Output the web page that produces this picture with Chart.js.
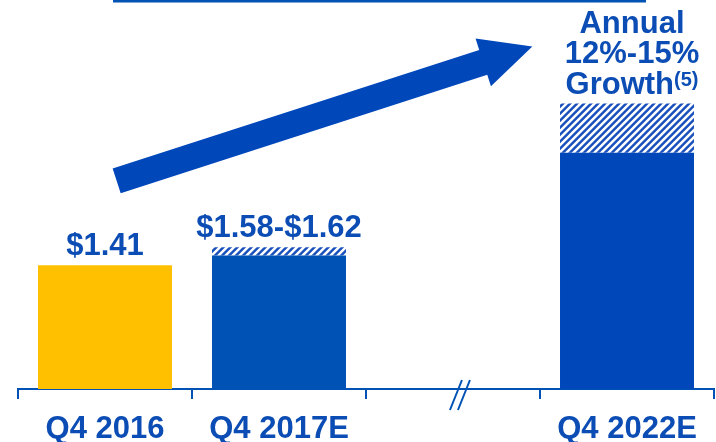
<!DOCTYPE html>
<html><head><meta charset="utf-8">
<script src="https://cdn.jsdelivr.net/npm/chart.js@4"></script>
<style>html,body{margin:0;padding:0;background:#fff}#wrap{width:716px;height:442px}</style>
</head><body><div id="wrap"><canvas id="c" width="716" height="442"></canvas></div>
<script>
// ---- data ----
const categories = ['Q4 2016', 'Q4 2017E', '', 'Q4 2022E'];
const baseValues = [1.41, 1.52, null, 2.69];      // solid part of each bar ($)
const rangeValues = [0, 0.095, null, 0.56];       // hatched guidance range on top ($)
const valueLabels = ['$1.41', '$1.58-$1.62', '', ''];
const growthLines = ['Annual', '12%-15%', 'Growth'];
const growthNote = '(5)';
const growthArrow = [[0.067, 2.37], [2.456, 3.90]]; // [category index, $] tail -> tip
const headerRule = [0.046, 3.109];                   // category index span
const axisBreakAt = 2.04;                            // category index of the "//"
const yMax = 4.43;

// ---- styles ----
const YELLOW = '#FFC000';
const BLUE1 = '#0052B4';
const BLUE2 = '#0047BA';
const TEXT = '#0B4DB4';
const FONT = '"Liberation Sans", Arial, sans-serif';

function makeHatch() {
  const p = 7, S = 4;
  const cv = document.createElement('canvas');
  cv.width = p; cv.height = p;
  const cx = cv.getContext('2d');
  const img = cx.createImageData(p, p);
  const b = [0x1A, 0x50, 0xBB];
  for (let y = 0; y < p; y++) for (let x = 0; x < p; x++) {
    let cov = 0;
    for (let sy = 0; sy < S; sy++) for (let sx = 0; sx < S; sx++) {
      const t = (((x + (sx + 0.5) / S) + (y + (sy + 0.5) / S)) % p) / p;
      if (t < 0.5) cov++;
    }
    cov /= S * S;
    const i = (y * p + x) * 4;
    for (let k = 0; k < 3; k++) img.data[i + k] = Math.round(255 * (1 - cov) + b[k] * cov);
    img.data[i + 3] = 255;
  }
  cx.putImageData(img, 0, 0);
  return document.getElementById('c').getContext('2d').createPattern(cv, 'repeat');
}
const hatch = makeHatch();

const decor = {
  id: 'decor',
  afterDatasetsDraw(chart) {
    const ctx = chart.ctx;
    const xs = chart.scales.x, ys = chart.scales.y;
    const m0 = chart.getDatasetMeta(0), m1 = chart.getDatasetMeta(1);
    ctx.save();
    ctx.fillStyle = TEXT;
    ctx.textAlign = 'center';
    ctx.textBaseline = 'alphabetic';
    ctx.font = 'bold 31px ' + FONT;
    for (let i = 0; i < categories.length; i++) {
      if (!valueLabels[i]) continue;
      const el = (rangeValues[i] > 0 ? m1 : m0).data[i];
      ctx.fillText(valueLabels[i], el.x, el.y - 10);
    }
    // growth label above last bar
    const last = categories.length - 1;
    const el = m1.data[last];
    const cx = el.x + 5;
    let base = el.y - 10;
    ctx.font = 'bold 31px ' + FONT;
    const gw = ctx.measureText(growthLines[2]).width;
    ctx.font = 'bold 20px ' + FONT;
    const nw = ctx.measureText(growthNote).width;
    ctx.textAlign = 'left';
    ctx.font = 'bold 31px ' + FONT;
    const gx = cx - (gw + nw) / 2;
    ctx.fillText(growthLines[2], gx, base);
    ctx.font = 'bold 20px ' + FONT;
    ctx.fillText(growthNote, gx + gw, base - 8);
    ctx.textAlign = 'center';
    ctx.font = 'bold 31px ' + FONT;
    ctx.fillText(growthLines[1], cx, base - 30.5);
    ctx.fillText(growthLines[0], cx, base - 61);

    // arrow
    const T = [xs.getPixelForValue(growthArrow[0][0]), ys.getPixelForValue(growthArrow[0][1])];
    const P = [xs.getPixelForValue(growthArrow[1][0]), ys.getPixelForValue(growthArrow[1][1])];
    const dx = P[0] - T[0], dy = P[1] - T[1], L = Math.hypot(dx, dy);
    const u = [dx / L, dy / L], n = [-u[1], u[0]];
    const hw = 13.1, hh = 25, hl = 51.6;
    const B = [P[0] - u[0] * hl, P[1] - u[1] * hl];
    const pt = (o, s) => [o[0] + n[0] * s, o[1] + n[1] * s];
    const poly = [pt(T, hw), pt(B, hw), pt(B, hh), P, pt(B, -hh), pt(B, -hw), pt(T, -hw)];
    ctx.fillStyle = BLUE2;
    ctx.beginPath();
    poly.forEach((q, k) => k ? ctx.lineTo(q[0], q[1]) : ctx.moveTo(q[0], q[1]));
    ctx.closePath();
    ctx.fill();

    // header rule
    const r0 = xs.getPixelForValue(headerRule[0]), r1 = xs.getPixelForValue(headerRule[1]);
    ctx.fillStyle = BLUE1;
    ctx.fillRect(r0, ys.getPixelForValue(yMax), r1 - r0, 2.5);

    // axis break
    const bx = xs.getPixelForValue(axisBreakAt);
    const by = xs.top;
    ctx.strokeStyle = BLUE1;
    ctx.lineWidth = 2;
    [-4, 4].forEach(off => {
      ctx.beginPath();
      ctx.moveTo(bx + off + 6, by - 9);
      ctx.lineTo(bx + off - 6, by + 21);
      ctx.stroke();
    });
    ctx.restore();
  }
};

new Chart(document.getElementById('c'), {
  type: 'bar',
  data: {
    labels: categories,
    datasets: [
      { data: baseValues, backgroundColor: [YELLOW, BLUE1, BLUE1, BLUE2], borderWidth: 0,
        barPercentage: 0.77, categoryPercentage: 1 },
      { data: rangeValues, backgroundColor: hatch, borderWidth: 0,
        barPercentage: 0.77, categoryPercentage: 1 }
    ]
  },
  options: {
    responsive: false,
    animation: false,
    events: [],
    layout: { padding: { left: 18, right: 2, top: 0, bottom: 0 } },
    plugins: { legend: { display: false }, tooltip: { enabled: false }, title: { display: false } },
    scales: {
      x: {
        stacked: true,
        offset: true,
        afterFit: s => { s.height = 53; },
        border: { display: true, color: BLUE1, width: 2 },
        grid: { display: true, offset: true, drawOnChartArea: false, drawTicks: true,
                tickLength: 10, color: BLUE1, lineWidth: 2 },
        ticks: { color: TEXT, padding: 12, font: { family: FONT, size: 31, weight: 'bold' }, maxRotation: 0, autoSkip: false }
      },
      y: { stacked: true, display: false, min: 0, max: yMax }
    }
  },
  plugins: [decor]
});
</script>
</body></html>
